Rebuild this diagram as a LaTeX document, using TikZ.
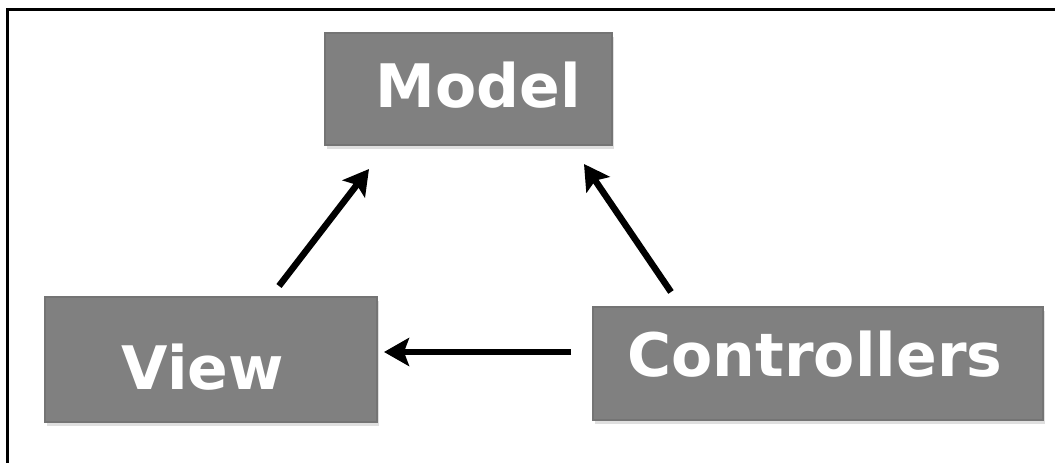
\documentclass[tikz,border=0pt]{standalone}
\usepackage{fontspec}
\setmainfont{DejaVu Sans}
\usetikzlibrary{arrows.meta,calc,shadows}
\definecolor{boxgray}{RGB}{128,128,128}
\definecolor{boxedge}{RGB}{116,116,116}
\tikzset{
  box/.style={draw=boxedge, line width=2pt, fill=boxgray, inner sep=0pt,
    drop shadow={opacity=0.25, shadow xshift=2pt, shadow yshift=-4pt}},
  lbl/.style={text=white, font=\fontsize{60}{60}\selectfont\bfseries, inner sep=0pt},
  arr/.style={line width=6.5pt, -{Stealth[length=25pt, width=28pt, inset=5pt]}}
}
\begin{document}
\begin{tikzpicture}[x=1pt,y=-1pt]
\useasboundingbox (0,0) rectangle (1055,463);
\fill[white] (0,0) rectangle (1055,463);
\draw[line width=3pt] (7,463) -- (7,9) -- (1055,9);
\node[box, minimum width=287pt, minimum height=112pt] (model) at (468.5,89) {};
\node[box, minimum width=332pt, minimum height=125pt] (view) at (211,359.5) {};
\node[box, minimum width=450pt, minimum height=113pt] (ctrl) at (818,363.5) {};
\node[lbl] (modelT) at ($(model.center)+(10,-4)$) {Model};
\node[lbl] (viewT) at ($(view.center)+(-8,8)$) {View};
\node[lbl] (ctrlT) at ($(ctrl.center)+(-3,-9)$) {Controllers};
\draw[arr] ($(view.north west)+(235,-10)$) -- ($(model.south west)+(45,23)$);
\draw[arr] ($(ctrl.north west)+(79,-14)$) -- ($(model.south east)+(-29,18)$);
\draw[arr] ($(ctrl.west)+(-21,-11.5)$) -- ($(view.east)+(6,-7.5)$);
\end{tikzpicture}
\end{document}
